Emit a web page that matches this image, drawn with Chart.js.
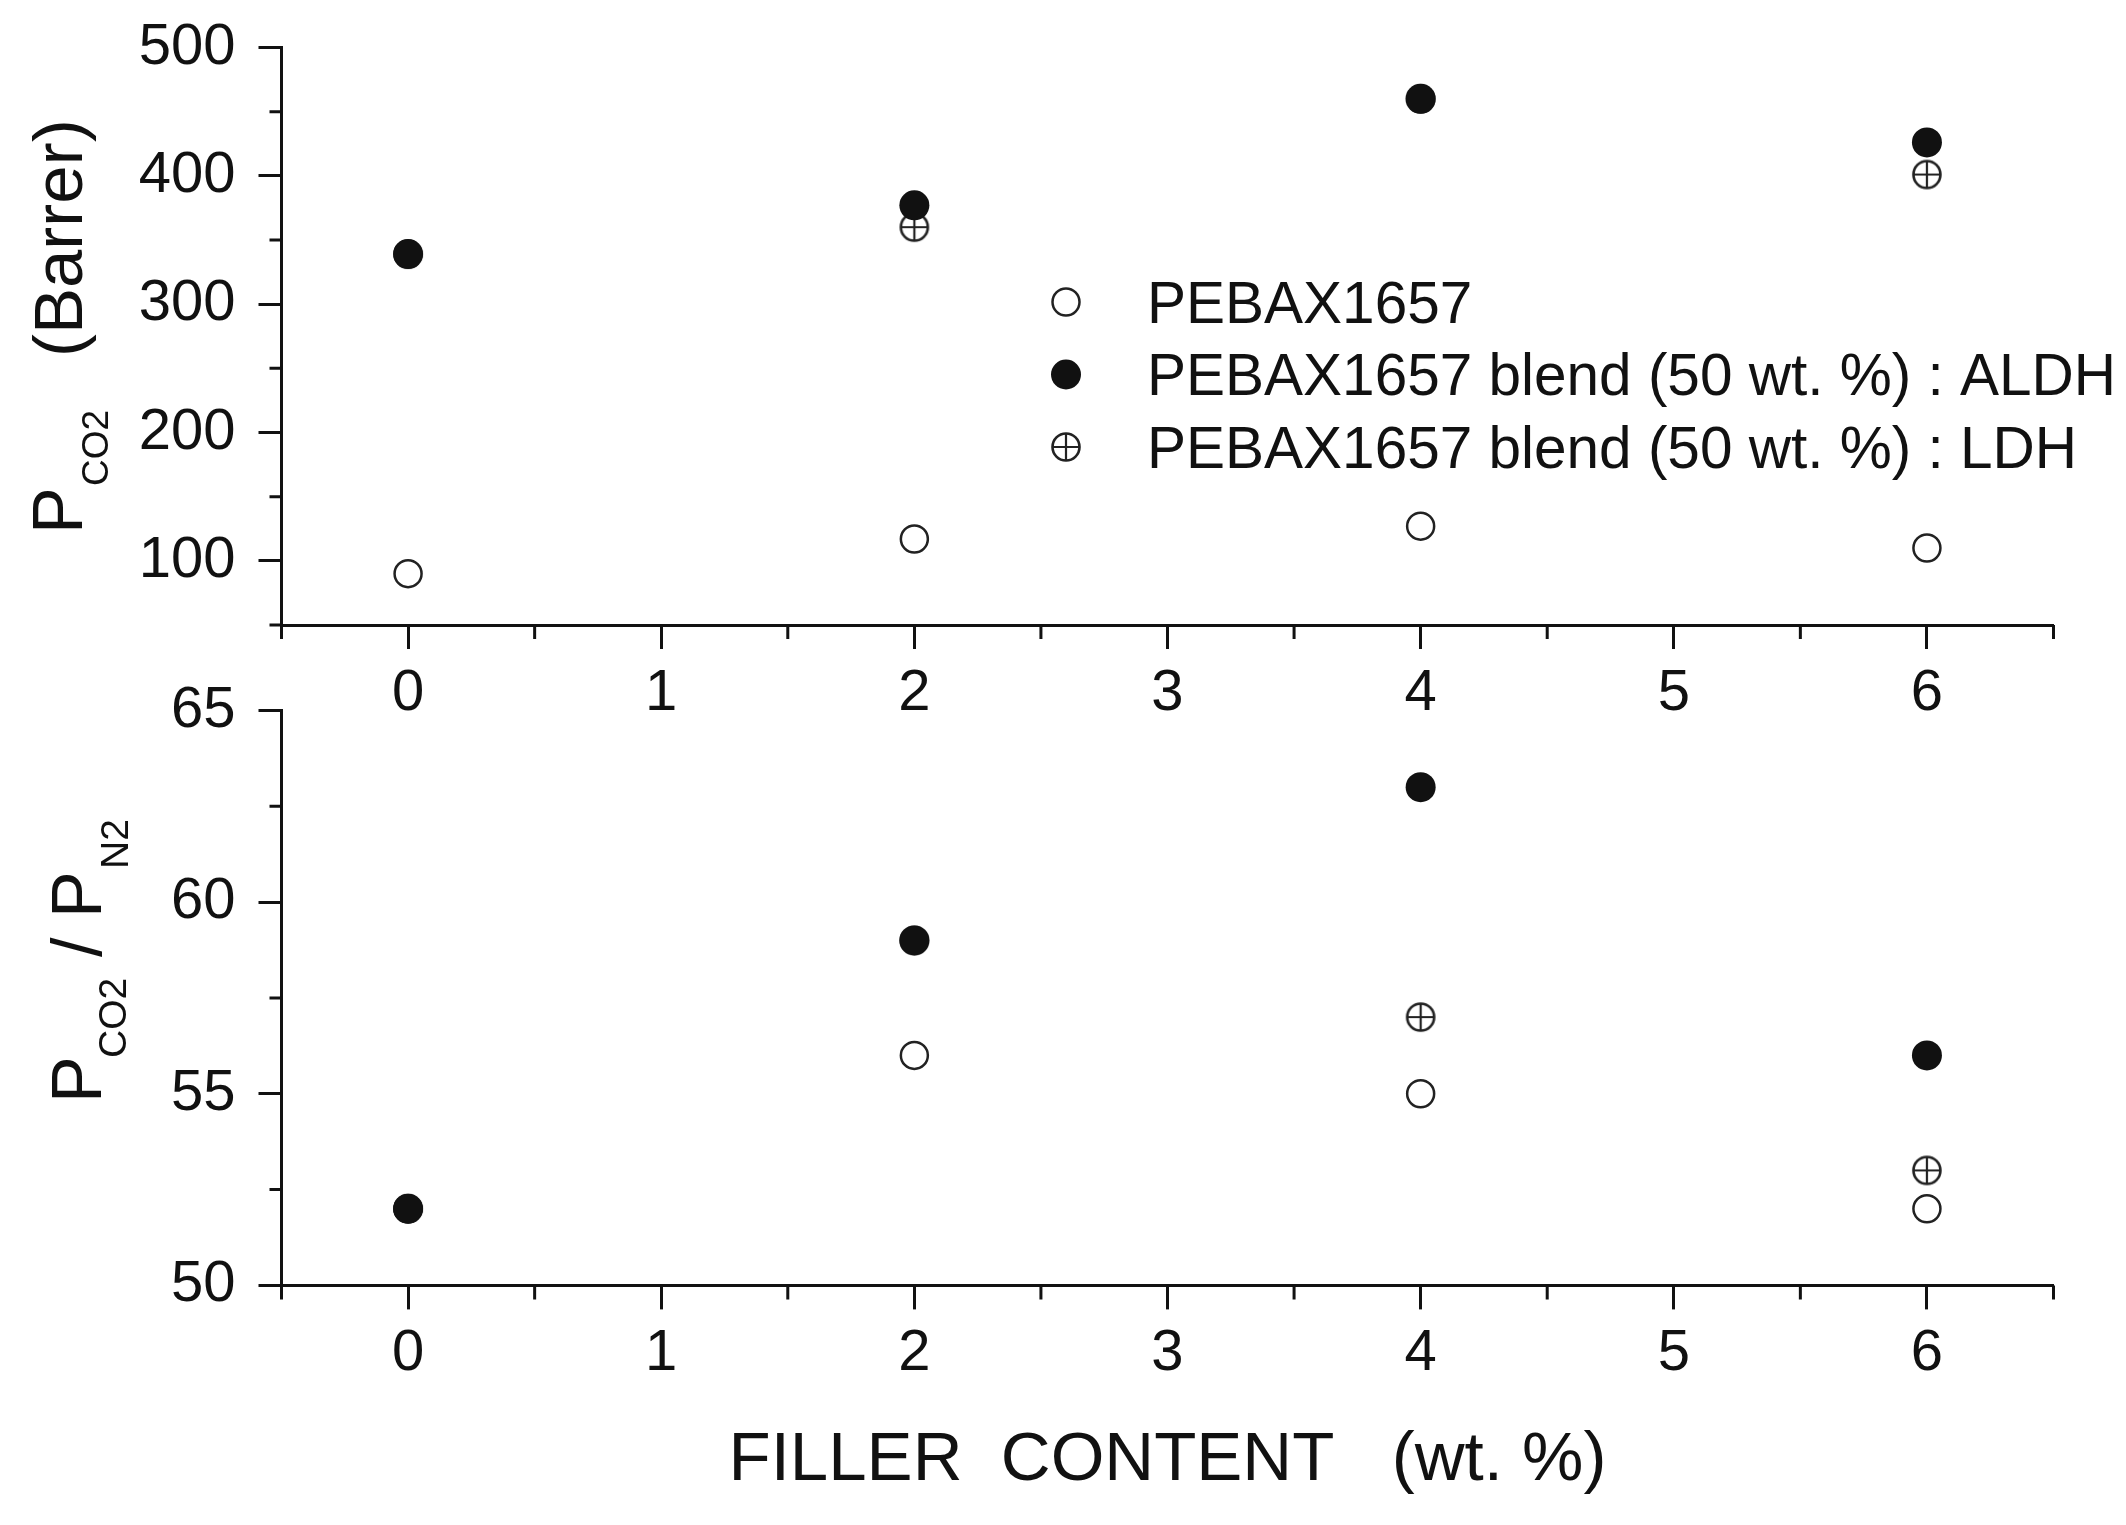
<!DOCTYPE html>
<html>
<head>
<meta charset="utf-8">
<script src="https://cdn.jsdelivr.net/npm/chart.js@4.4.1/dist/chart.umd.min.js"></script>
<style>
  html, body { margin: 0; padding: 0; background: #ffffff; }
  #wrap { position: relative; width: 2126px; height: 1525px; overflow: hidden; }
  #wrap canvas { position: absolute; left: 0; top: 0; }
</style>
</head>
<body>
<div id="wrap">
  <canvas id="permChart" width="2126" height="1525"></canvas>
  <canvas id="selChart" width="2126" height="1525"></canvas>
</div>
<script>
// ---------------- data ----------------
const fillerContent = [0, 2, 4, 6];
const seriesNames = [
  'PEBAX1657',
  'PEBAX1657 blend (50 wt. %) : ALDH',
  'PEBAX1657 blend (50 wt. %) : LDH'
];
// CO2 permeability (Barrer)
const permPebax = [90, 117, 127, 110];
const permAldh  = [339, 377, 460, 426];
const permLdh   = [339, 360, 460, 401];
// CO2/N2 selectivity
const selPebax = [52, 56, 55, 52];
const selAldh  = [52, 59, 63, 56];
const selLdh   = [52, 59, 57, 53];
// ticks
const xMajorTicks = [0, 1, 2, 3, 4, 5, 6];
const xMinorTicks = [-0.5, 0.5, 1.5, 2.5, 3.5, 4.5, 5.5, 6.5];
const permMajorTicks = [100, 200, 300, 400, 500];
const permMinorTicks = [50, 150, 250, 350, 450];
const selMajorTicks = [50, 55, 60, 65];
const selMinorTicks = [52.5, 57.5, 62.5];
const xTitle = 'FILLER  CONTENT   (wt. %)';

// ---------------- styles ----------------
const INK = '#111111';
const FONT = '"Liberation Sans", Arial, Helvetica, sans-serif';
Chart.defaults.font.family = FONT;
Chart.defaults.color = INK;

const W = 2126, H = 1525;
const AREA_LEFT = 281.5, AREA_RIGHT = 2053.5;

function makeCrossCircle(r, lw) {
  const s = Math.ceil(2 * r + lw + 2);
  const c = document.createElement('canvas');
  c.width = s; c.height = s;
  const g = c.getContext('2d');
  const m = s / 2;
  g.fillStyle = '#ffffff';
  g.beginPath(); g.arc(m, m, r, 0, 2 * Math.PI); g.fill();
  g.strokeStyle = '#222'; g.lineWidth = lw; g.stroke();
  g.beginPath();
  g.moveTo(m - r, m); g.lineTo(m + r, m);
  g.moveTo(m, m - r); g.lineTo(m, m + r);
  g.lineWidth = lw * 0.85; g.stroke();
  return c;
}
const crossCircle = makeCrossCircle(13.5, 2.6);

function pts(arr) { return fillerContent.map((x, i) => ({ x: x, y: arr[i] })); }

function makeDatasets(a, b, c) {
  return [
    { label: seriesNames[0], data: pts(a), pointStyle: 'circle', pointRadius: 13.5,
      pointBorderWidth: 2.5, pointBorderColor: '#222', pointBackgroundColor: '#ffffff', order: 1 },
    { label: seriesNames[1], data: pts(b), pointStyle: 'circle', pointRadius: 15,
      pointBorderWidth: 0, pointBorderColor: INK, pointBackgroundColor: INK, order: 0 },
    { label: seriesNames[2], data: pts(c), pointStyle: crossCircle, pointRadius: 14,
      pointBorderWidth: 0, pointBorderColor: '#222', pointBackgroundColor: '#ffffff', order: 2 }
  ];
}

// minor ticks drawn through the chart's scales
const minorTicksPlugin = {
  id: 'minorTicks',
  afterDraw(chart, args, opts) {
    const ctx = chart.ctx, xs = chart.scales.x, ys = chart.scales.y;
    const a = chart.chartArea;
    ctx.save();
    ctx.strokeStyle = INK; ctx.lineWidth = 3; ctx.lineCap = 'butt';
    ctx.beginPath();
    opts.xMinor.forEach(v => {
      const px = xs.getPixelForValue(v);
      ctx.moveTo(px, a.bottom); ctx.lineTo(px, a.bottom + opts.xLen);
    });
    opts.yMinor.forEach(v => {
      const py = ys.getPixelForValue(v);
      ctx.moveTo(a.left - opts.yLen, py); ctx.lineTo(a.left, py);
    });
    ctx.stroke();
    ctx.restore();
  }
};

// rotated y-axis titles with subscripts
const richTitlePlugin = {
  id: 'richTitle',
  afterDraw(chart, args, opts) {
    const ctx = chart.ctx;
    ctx.save();
    ctx.fillStyle = INK; ctx.textBaseline = 'alphabetic'; ctx.textAlign = 'left';
    opts.parts.forEach(p => {
      ctx.save();
      ctx.translate(p.x, p.y);
      ctx.rotate(-Math.PI / 2);
      ctx.font = p.size + 'px ' + FONT;
      ctx.fillText(p.text, 0, 0);
      ctx.restore();
    });
    ctx.restore();
  }
};

// legend inside the top panel
const boxLegendPlugin = {
  id: 'boxLegend',
  afterDraw(chart, args, opts) {
    if (!opts.show) return;
    const ctx = chart.ctx;
    ctx.save();
    ctx.font = opts.fontSize + 'px ' + FONT;
    ctx.textBaseline = 'alphabetic'; ctx.textAlign = 'left';
    chart.data.datasets.forEach((ds, i) => {
      const cy = opts.y + i * opts.gap;
      const cx = opts.markerX;
      if (ds.pointStyle === 'circle') {
        ctx.beginPath();
        ctx.arc(cx, cy, ds.pointRadius, 0, 2 * Math.PI);
        ctx.fillStyle = ds.pointBackgroundColor; ctx.fill();
        if (ds.pointBorderWidth > 0) {
          ctx.lineWidth = ds.pointBorderWidth; ctx.strokeStyle = ds.pointBorderColor; ctx.stroke();
        }
      } else {
        const img = ds.pointStyle;
        ctx.drawImage(img, cx - img.width / 2, cy - img.height / 2);
      }
      ctx.fillStyle = INK;
      ctx.fillText(ds.label, opts.textX, cy + opts.fontSize * 0.358);
    });
    ctx.restore();
  }
};

function makeOptions(cfg) {
  return {
    responsive: false,
    animation: false,
    devicePixelRatio: 1,
    layout: { autoPadding: false,
              padding: { top: cfg.top, left: 0, right: W - AREA_RIGHT, bottom: cfg.padBottom } },
    scales: {
      x: {
        type: 'linear', min: -0.5, max: 6.5, position: 'bottom',
        afterBuildTicks: s => { s.ticks = xMajorTicks.map(v => ({ value: v })); },
        afterFit: s => { s.height = cfg.xHeight; },
        border: { display: true, color: INK, width: 3 },
        grid: { display: true, drawOnChartArea: false, drawTicks: true, tickLength: 24,
                tickWidth: 3, tickColor: INK },
        ticks: { autoSkip: false, maxRotation: 0, padding: 10, color: INK,
                 font: { family: FONT, size: 58, lineHeight: 1.2 } },
        title: cfg.xTitle ? { display: true, text: xTitle, color: INK,
                 font: { family: FONT, size: 69, lineHeight: 1.2 },
                 padding: { top: 0, bottom: cfg.titlePadBottom } } : { display: false }
      },
      y: {
        type: 'linear', min: cfg.yMin, max: cfg.yMax, position: 'left',
        afterBuildTicks: s => { s.ticks = cfg.yMajor.map(v => ({ value: v })); },
        afterFit: s => { s.width = AREA_LEFT; s.paddingTop = 0; s.paddingBottom = 0; },
        border: { display: true, color: INK, width: 3 },
        grid: { display: true, drawOnChartArea: false, drawTicks: true, tickLength: 23,
                tickWidth: 3, tickColor: INK },
        ticks: { autoSkip: false, padding: 23, color: INK,
                 font: { family: FONT, size: 58, lineHeight: 0.7 } }
      }
    },
    plugins: {
      legend: { display: false },
      tooltip: { enabled: false },
      minorTicks: { xMinor: xMinorTicks, yMinor: cfg.yMinor, xLen: 14, yLen: 12 },
      richTitle: { parts: cfg.titleParts },
      boxLegend: { show: cfg.legend, markerX: 1066, y: 302, gap: 72.5, textX: 1147, fontSize: 58.5 }
    }
  };
}

const plugins = [minorTicksPlugin, richTitlePlugin, boxLegendPlugin];

new Chart(document.getElementById('permChart'), {
  type: 'scatter',
  data: { datasets: makeDatasets(permPebax, permAldh, permLdh) },
  options: makeOptions({
    top: 47.5, xHeight: 100, padBottom: H - 625 - 100,
    yMin: 50, yMax: 500, yMajor: permMajorTicks, yMinor: permMinorTicks,
    xTitle: false, legend: true,
    titleParts: [
      { text: 'P', size: 70, x: 82, y: 534 },
      { text: 'CO2', size: 37, x: 108, y: 486 },
      { text: '(Barrer)', size: 69, x: 82, y: 357 }
    ]
  }),
  plugins: plugins
});

new Chart(document.getElementById('selChart'), {
  type: 'scatter',
  data: { datasets: makeDatasets(selPebax, selAldh, selLdh) },
  options: makeOptions({
    top: 710.5, xHeight: H - 1285.4, padBottom: 0, titlePadBottom: 22.6,
    yMin: 50, yMax: 65, yMajor: selMajorTicks, yMinor: selMinorTicks,
    xTitle: true, legend: false,
    titleParts: [
      { text: 'P', size: 70, x: 101, y: 1103 },
      { text: 'CO2', size: 39, x: 126, y: 1058 },
      { text: '/', size: 70, x: 101, y: 957 },
      { text: 'P', size: 70, x: 101, y: 918 },
      { text: 'N2', size: 39, x: 128, y: 869 }
    ]
  }),
  plugins: plugins
});
</script>
</body>
</html>
